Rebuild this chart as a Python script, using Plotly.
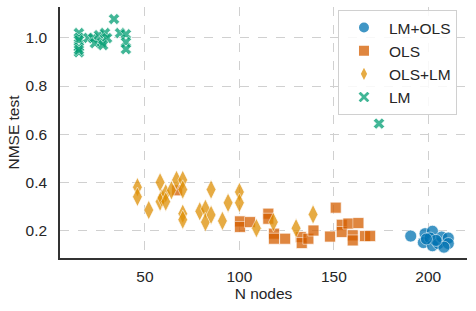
import plotly.graph_objects as go

# LM+OLS (blue circles)
lmols_x = [190.7, 198.3, 202.2, 197.4, 200.9, 202.2, 205.4, 207.1, 210.6, 210.6, 208.3, 204.1, 199.0]
lmols_y = [0.177, 0.187, 0.197, 0.150, 0.169, 0.137, 0.146, 0.173, 0.169, 0.146, 0.131, 0.159, 0.165]

# OLS (vermillion squares)
ols_x = [67.0, 100.3, 100.3, 105.6, 115.3, 115.3, 118.3, 118.3, 124.2, 132.5, 133.0, 136.5, 139.2,
         148.0, 151.0, 154.2, 154.2, 157.7, 160.0, 160.0, 163.0, 166.5, 169.2]
ols_y = [0.367, 0.238, 0.215, 0.235, 0.270, 0.249, 0.187, 0.166, 0.166, 0.173, 0.148, 0.166, 0.200,
         0.175, 0.295, 0.224, 0.194, 0.229, 0.180, 0.159, 0.231, 0.177, 0.177]

# OLS+LM (orange thin diamonds)
olslm_x = [46, 46, 52, 58, 58, 59, 61, 61, 64, 66.7, 70, 70, 70, 70, 79, 82, 82, 85, 85, 91, 94,
           100, 100, 109, 118, 130, 139]
olslm_y = [0.38, 0.34, 0.285, 0.40, 0.32, 0.335, 0.355, 0.32, 0.367, 0.41, 0.41, 0.37, 0.27, 0.245,
           0.28, 0.29, 0.235, 0.37, 0.265, 0.24, 0.315, 0.36, 0.315, 0.21, 0.235, 0.21, 0.267]

# LM (green x)
lm_x = [15, 15, 15, 15, 15, 15, 20, 22.5, 23.5, 25.6, 27.2, 28.8, 29.9, 27.8, 33.6, 36.8, 39.9, 39.9,
        39.9, 173.9]
lm_y = [1.02, 1.00, 0.99, 0.96, 0.94, 0.95, 1.00, 0.999, 0.978, 1.011, 0.982, 1.02, 0.999, 0.97,
        1.078, 1.02, 1.015, 0.982, 0.953, 0.644]

fig = go.Figure()
series = [
    ("LM+OLS", lmols_x, lmols_y, "circle", "#0173b2", 12),
    ("OLS", ols_x, ols_y, "square", "#d55e00", 11),
    ("OLS+LM", olslm_x, olslm_y, "diamond-tall", "#de8f05", 14),
    ("LM", lm_x, lm_y, "x", "#029e73", 10),
]
for name, xs, ys, sym, col, sz in series:
    fig.add_trace(go.Scatter(
        x=xs, y=ys, mode="markers", name=name,
        marker=dict(symbol=sym, color=col, size=sz, opacity=0.75,
                    line=dict(color="white", width=0.7)),
    ))

font_family = "Liberation Sans, Arial, sans-serif"
fs = 15.5
fig.update_layout(
    width=476, height=311,
    margin=dict(l=60, r=9, t=7, b=53),
    paper_bgcolor="white", plot_bgcolor="white",
    font=dict(family=font_family, size=fs, color="#262626"),
    showlegend=True,
    legend=dict(x=0.683, y=0.988, xanchor="left", yanchor="top",
                bgcolor="rgba(255,255,255,0.85)", bordercolor="#d0d0d0", borderwidth=1,
                font=dict(size=fs, color="#262626"), itemsizing="constant",
                itemwidth=40, tracegroupgap=0),
)
fig.update_xaxes(
    range=[5, 220.5], tickvals=[50, 100, 150, 200], ticks="", automargin=False,
    showgrid=True, gridcolor="#d0d0d0", griddash="dash", gridwidth=1,
    showline=True, linecolor="#333333", linewidth=1.5, zeroline=False,
    title=dict(text="N nodes", font=dict(size=fs), standoff=3),
    tickfont=dict(size=fs), ticklabelstandoff=4,
)
fig.update_yaxes(
    range=[0.086, 1.128], tickvals=[0.2, 0.4, 0.6, 0.8, 1.0], ticktext=["0.2", "0.4", "0.6", "0.8", "1.0"],
    ticks="", automargin=False, showgrid=True, gridcolor="#d0d0d0", griddash="dash", gridwidth=1,
    showline=True, linecolor="#333333", linewidth=1.5, zeroline=False,
    title=dict(text="NMSE test", font=dict(size=fs), standoff=2),
    tickfont=dict(size=fs), ticklabelstandoff=8,
)
fig.write_html("out.html", config={"displayModeBar": False},
               post_script="document.body.style.margin='0';")
